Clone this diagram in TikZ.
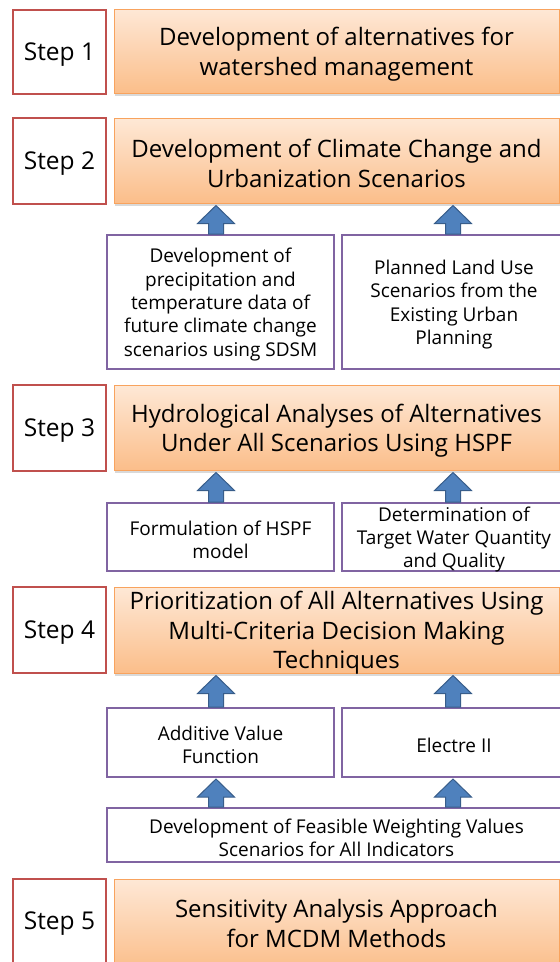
\documentclass[tikz,border=0pt]{standalone}
\usepackage{fontspec}
\setmainfont{Open Sans}
\usetikzlibrary{shadows,calc,fit}
\definecolor{stepred}{HTML}{C0504D}
\definecolor{orgborder}{HTML}{F8A35E}
\definecolor{orgtop}{HTML}{FEE8D6}
\definecolor{orgbot}{HTML}{FBBE8A}
\definecolor{purp}{HTML}{8064A2}
\definecolor{arrfill}{HTML}{4F81BD}
\definecolor{arrline}{HTML}{385D8A}
\newcommand\uparr[2]{%
  \filldraw[blockarrow] let \p1=(#1), \p2=(#2) in
    (\x1-7.5pt,\y1) -- (\x1-7.5pt,\y2-18pt) -- (\x1-18.5pt,\y2-18pt) -- (\x1,\y2)
    -- (\x1+18.5pt,\y2-18pt) -- (\x1+7.5pt,\y2-18pt) -- (\x1+7.5pt,\y1) -- cycle;}
\begin{document}
\begin{tikzpicture}[x=1pt,y=-1pt,
  stepbox/.style={draw=stepred, line width=2pt, fill=white, inner sep=0pt},
  steptext/.style={font=\fontsize{24.5}{28}\selectfont, yshift=-3pt},
  titlebox/.style={draw=orgborder, line width=1pt, top color=orgtop, bottom color=orgbot,
    inner sep=0pt,
    drop shadow={opacity=0.3, shadow xshift=1pt, shadow yshift=-2.5pt}},
  titletext/.style={align=center, font=\fontsize{24}{29.5}\selectfont, yshift=-3pt},
  subbox/.style={draw=purp, line width=2pt, fill=white, inner sep=0pt},
  subtext/.style={align=center, font=\fontsize{19}{23.3}\selectfont, yshift=-2.5pt},
  blockarrow/.style={fill=arrfill, draw=arrline, line width=1pt, line join=miter}]
\useasboundingbox (0,0) rectangle (560,962);
\clip (0,0) rectangle (560,962);
\coordinate (colL) at (216,0);
\coordinate (colR) at (453,0);
% Step 1
\node[stepbox, fit={(13,10)(106,94)}] (s1) {};
\node[steptext] (s1t) at (s1.center) {Step 1};
\node[titlebox, fit={(114,9)(559,93)}] (t1) {};
\node[titletext] (t1t) at (t1.center) {Development of alternatives for\\watershed management};
% Step 2
\node[stepbox, fit={(13,118)(106,204)}] (s2) {};
\node[steptext] (s2t) at (s2.center) {Step 2};
\node[titlebox, fit={(114,118)(559,203)}] (t2) {};
\node[titletext] (t2t) at (t2.center) {Development of Climate Change and\\Urbanization Scenarios};
\node[subbox, fit={(107,235)(334,369)}] (p2a) {};
\node[subtext] (p2at) at (p2a.center) {Development of\\precipitation and\\temperature data of\\future climate change\\scenarios using SDSM};
\node[subbox, fit={(342,235)(566,369)}] (p2b) {};
\node[subtext] (p2bt) at (p2b.center) {Planned Land Use\\Scenarios from the\\Existing Urban\\Planning};
\uparr{p2a.north -| colL}{$(t2.south -| colL)+(0,2)$}
\uparr{p2b.north -| colR}{$(t2.south -| colR)+(0,2)$}
% Step 3
\node[stepbox, fit={(13,385)(106,471)}] (s3) {};
\node[steptext] (s3t) at (s3.center) {Step 3};
\node[titlebox, fit={(114,385)(559,470)}] (t3) {};
\node[titletext] (t3t) at (t3.center) {Hydrological Analyses of Alternatives\\Under All Scenarios Using HSPF};
\node[subbox, fit={(107,503)(334,571)}] (p3a) {};
\node[subtext] (p3at) at (p3a.center) {Formulation of HSPF\\model};
\node[subbox, fit={(342,503)(566,571)}] (p3b) {};
\node[subtext] (p3bt) at (p3b.center) {Determination of\\Target Water Quantity\\and Quality};
\uparr{p3a.north -| colL}{$(t3.south -| colL)+(0,2)$}
\uparr{p3b.north -| colR}{$(t3.south -| colR)+(0,2)$}
% Step 4
\node[stepbox, fit={(13,587)(106,673)}] (s4) {};
\node[steptext] (s4t) at (s4.center) {Step 4};
\node[titlebox, fit={(114,587)(559,673)}] (t4) {};
\node[titletext] (t4t) at (t4.center) {Prioritization of All Alternatives Using\\Multi-Criteria Decision Making\\Techniques};
\node[subbox, fit={(107,708)(334,777)}] (p4a) {};
\node[subtext] (p4at) at (p4a.center) {Additive Value\\Function};
\node[subbox, fit={(342,708)(566,777)}] (p4b) {};
\node[subtext] (p4bt) at (p4b.center) {Electre II};
\uparr{p4a.north -| colL}{$(t4.south -| colL)+(0,2)$}
\uparr{p4b.north -| colR}{$(t4.south -| colR)+(0,2)$}
\node[subbox, fit={(107,808)(566,862)}] (p5) {};
\node[subtext] (p5t) at (p5.center) {Development of Feasible Weighting Values\\Scenarios for All Indicators};
\uparr{p5.north -| colL}{$(p4a.south -| colL)+(0,1)$}
\uparr{p5.north -| colR}{$(p4b.south -| colR)+(0,1)$}
% Step 5
\node[stepbox, fit={(13,879)(106,970)}] (s5) {};
\node[steptext] (s5t) at ($(s5.center)+(0,-4)$) {Step 5};
\node[titlebox, fit={(114,879)(559,970)}] (t5) {};
\node[titletext] (t5t) at ($(t5.center)+(0,-4)$) {Sensitivity Analysis Approach\\for MCDM Methods};
\end{tikzpicture}
\end{document}
